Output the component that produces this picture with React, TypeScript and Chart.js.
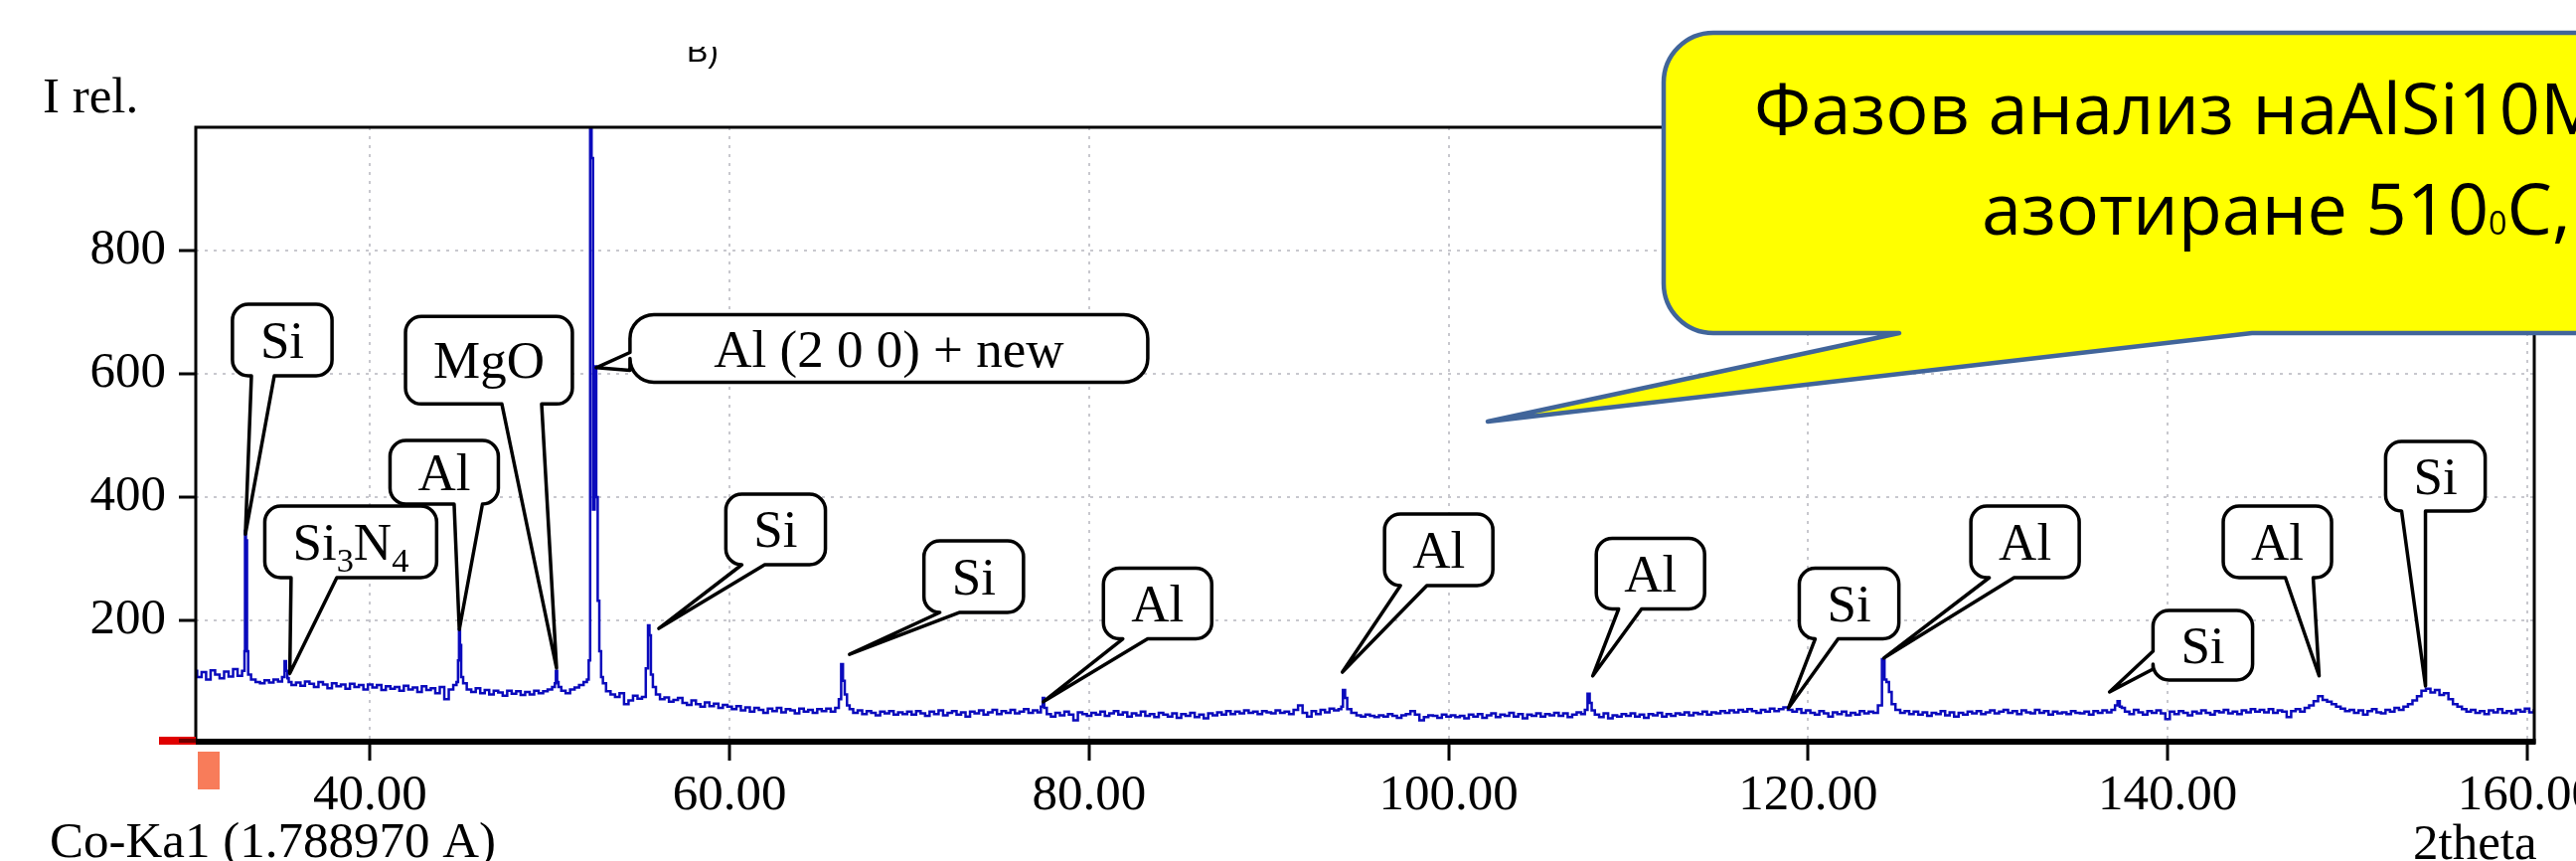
import React, { useEffect, useRef } from 'react';
import { Chart, registerables } from 'chart.js';

Chart.register(...registerables);

// ---------- axes ----------
const X_MIN = 30.3;
const X_MAX = 160.4;
const Y_MIN = 0;
const Y_MAX = 1000;
const X_TICKS = [40, 60, 80, 100, 120, 140, 160];
const Y_TICKS = [200, 400, 600, 800];

// ---------- measured pattern (Co-Ka1) ----------
// background scan sampled every 0.25 deg starting at 30.25 deg; null = sample replaced by a peak profile
const SCAN_START = 30.25;
const SCAN_STEP = 0.25;
const SCAN_INTENSITY: (number | null)[] = [
  118, 108, 116, 104, 119, 112, 106, 117, 109, 121, 110, 118, 112, 104, 100, 98, 103, 99, 104, 101,
  null, 100, 95, 99, 94, 101, 97, 92, 100, 96, 90, 98, 93, 96, 89, 97, 92, 95, 88, 96,
  91, 95, 87, 93, 89, 92, 86, 94, 88, 91, 84, 93, 87, 90, 82, 92, 72, 88, 95, null,
  98, 88, 84, 90, 82, 87, 80, 86, 83, 78, 86, 81, 85, 79, 84, 80, 86, 82, 85, 88,
  92, null, 86, 82, 88, 91, 95, 100, null, null, null, 98, 85, 80, 76, 82, 64, 70, 78, 73,
  76, null, null, 80, 72, 75, 68, 71, 74, 66, 63, 70, 64, 60, 67, 61, 65, 58, 63, 60,
  56, 61, 54, 59, 52, 58, 55, 50, 57, 53, 58, 51, 56, 54, 49, 57, 52, 55, 50, 56,
  53, 57, 52, 58, null, null, 56, 50, 54, 48, 53, 50, 46, 52, 49, 53, 47, 51, 48, 52,
  47, 53, 49, 45, 52, 48, 54, 46, 50, 53, 47, 51, 44, 52, 49, 54, 47, 51, 55, 48,
  53, 50, 55, 49, 52, 56, 50, 54, 51, null, 48, 44, 50, 46, 52, 47, 38, 51, 48, 45,
  50, 47, 52, 45, 49, 53, 47, 51, 44, 49, 46, 52, 45, 48, 43, 50, 47, 44, 49, 42,
  48, 45, 50, 43, 47, 41, 49, 46, 51, 47, 53, 48, 52, 49, 54, 50, 52, 48, 53, 51,
  49, 54, 50, 52, 48, 55, 62, 50, 44, 53, 48, 55, 51, 57, 54, 56, null, null, 50, 46,
  44, 47, 45, 43, 46, 44, 48, 45, 42, 46, 48, 53, 47, 38, 43, 46, 45, 42, 47, 44,
  46, 43, 45, 41, 47, 44, 48, 42, 46, 49, 43, 47, 45, 50, 44, 48, 41, 47, 45, 49,
  44, 48, 46, 50, 45, 49, 43, 47, 51, 48, null, null, 47, 43, 49, 41, 46, 44, 48, 45,
  49, 44, 47, 42, 48, 46, 50, 44, 48, 45, 49, 47, 51, 46, 50, 48, 52, 47, 51, 49,
  53, 50, 54, 51, 55, 52, 56, 53, 50, 55, 52, 57, 53, 56, 59, 55, 52, 56, 50, 54,
  50, 47, 53, 49, 44, 51, 48, 52, 46, 50, 47, 53, 49, 52, 50, null, null, null, null, 55,
  50, 53, 48, 52, 47, 51, 45, 50, 48, 53, 46, 51, 44, 50, 47, 52, 49, 53, 48, 51,
  54, 49, 52, 55, 50, 53, 48, 54, 51, 49, 55, 50, 53, 47, 52, 49, 51, 48, 53, 50,
  49, 52, 47, 53, 50, 54, 51, 55, null, 58, 52, 48, 55, 51, 47, 53, 50, 54, 49, 40,
  52, 48, 53, 50, 46, 52, 49, 54, 50, 47, 53, 51, 55, 49, 52, 48, 54, 51, 56, 52,
  55, 51, 56, 50, 54, 52, 43, 53, 56, 52, 58, 62, 69, 77, 71, 68, 64, 60, 57, 53,
  55, 50, 54, 47, 53, 56, 51, 49, 55, 52, 58, 55, 60, 64, 70, 77, 86, 89, 83, 87,
  79, 82, 72, 64, 60, 56, 52, 55, 50, 53, 48, 54, 51, 56, 50, 53, 49, 55, 52, 57,
  51, 54,
];

// narrow reflections [2theta, intensity]
const SI_PEAKS: [number, number][] = [
  [33.02, 150], [33.06, 345], [33.12, 330], [33.18, 150],
  [55.42, 122], [55.5, 192], [55.58, 176], [55.66, 112], [55.8, 92],
  [66.15, 72], [66.26, 129], [66.35, 102], [66.46, 80], [66.6, 62],
  [137.15, 62], [137.28, 69], [137.4, 60],
];
const SI3N4_PEAKS: [number, number][] = [[35.2, 108], [35.28, 134], [35.36, 118], [35.44, 106]];
const MGO_PEAKS: [number, number][] = [[50.3, 98], [50.37, 118], [50.44, 100], [50.52, 92]];
const AL_PEAKS: [number, number][] = [
  [44.86, 100], [44.92, 135], [44.97, 185], [45.03, 160], [45.1, 108],
  [52.12, 104], [52.2, 135], [52.28, 1100], [52.36, 950], [52.44, 380], [52.54, 612],
  [52.62, 400], [52.7, 232], [52.8, 150], [52.9, 108],
  [77.38, 60], [77.46, 74], [77.54, 58],
  [94.06, 60], [94.18, 87], [94.3, 74], [94.42, 56],
  [107.66, 55], [107.8, 81], [107.9, 66], [108.02, 54],
  [124.02, 62], [124.2, 137], [124.3, 104], [124.42, 100], [124.58, 84], [124.72, 64],
];

// ---------- phase labels: box centre and pointer tip in data units ----------
type Callout = {
  label: string; tip: [number, number]; box: [number, number];
  h: number; w?: number; r?: number; side: 'bottom' | 'left'; base: [number, number];
};
const CALLOUTS: Callout[] = [
  { label: 'Si', tip: [33.06, 340], box: [35.11, 654.8], h: 72, side: 'bottom', base: [-31, -8] },
  { label: 'Si_3N_4', tip: [35.53, 114], box: [38.92, 327.4], h: 72, side: 'bottom', base: [-60, -14] },
  { label: 'Al', tip: [44.96, 185], box: [44.12, 440.3], h: 64, side: 'bottom', base: [10, 40] },
  { label: 'MgO', tip: [50.37, 122.6], box: [46.61, 622], h: 88, side: 'bottom', base: [13, 53] },
  { label: 'Al (2 0 0) + new', tip: [52.58, 610], box: [68.86, 641.1], h: 68, w: 521, r: 24, side: 'left', base: [4, 22] },
  { label: 'Si', tip: [56.06, 187], box: [62.56, 347.6], h: 71, side: 'bottom', base: [-34, -11] },
  { label: 'Si', tip: [66.67, 145], box: [73.58, 271], h: 72, side: 'bottom', base: [-38, -14] },
  { label: 'Al', tip: [77.45, 68], box: [83.81, 227.4], h: 71, side: 'bottom', base: [-35, -10] },
  { label: 'Al', tip: [94.09, 116], box: [99.45, 314.5], h: 72, side: 'bottom', base: [-40, -12] },
  { label: 'Al', tip: [108.02, 110], box: [111.23, 275.8], h: 71, side: 'bottom', base: [-32, -9] },
  { label: 'Si', tip: [118.91, 58], box: [122.28, 227.4], h: 71, side: 'bottom', base: [-36, -11] },
  { label: 'Al', tip: [124.22, 139], box: [132.07, 327.4], h: 72, side: 'bottom', base: [-36, -11] },
  { label: 'Si', tip: [136.77, 84], box: [141.96, 159.7], h: 70, side: 'left', base: [6, 24] },
  { label: 'Al', tip: [148.43, 110], box: [146.11, 327.4], h: 72, side: 'bottom', base: [8, 36] },
  { label: 'Si', tip: [154.35, 93.5], box: [154.9, 433.9], h: 70, side: 'bottom', base: [-34, -10] },
];

const NOTE_LINES = ['Фазов анализ наAlSi10Mg след', 'азотиране 510_0C, 8 h'];
const Y_TITLE = 'I rel.';
const X_TITLE = '2theta';
const RADIATION = 'Co-Ka1 (1.788970 A)';
const PANEL_LETTER = 'В)';

const SERIF = '"Liberation Serif", "Times New Roman", serif';
const LABEL_SIZE = 53;

function richMeasure(ctx: CanvasRenderingContext2D, text: string, size: number, family: string, subScale = 0.65) {
  const parts = text.split(/_(\d)/);
  let total = 0;
  parts.forEach((t, i) => {
    if (!t) return;
    ctx.font = `${i % 2 === 1 ? size * subScale : size}px ${family}`;
    total += ctx.measureText(t).width;
  });
  return total;
}

function drawRich(
  ctx: CanvasRenderingContext2D, text: string, x: number, y: number, size: number,
  family: string, align: 'left' | 'center', subScale = 0.65, subShift = 0.22,
) {
  const parts = text.split(/_(\d)/);
  const segs = parts
    .map((t, i) => ({ t, sub: i % 2 === 1, w: 0 }))
    .filter((s) => s.t.length > 0);
  let total = 0;
  segs.forEach((s) => {
    ctx.font = `${s.sub ? size * subScale : size}px ${family}`;
    s.w = ctx.measureText(s.t).width;
    total += s.w;
  });
  let cx = align === 'center' ? x - total / 2 : x;
  ctx.textAlign = 'left';
  segs.forEach((s) => {
    ctx.font = `${s.sub ? size * subScale : size}px ${family}`;
    ctx.fillText(s.t, cx, s.sub ? y + size * subShift : y);
    cx += s.w;
  });
  return total;
}

function calloutPath(
  ctx: CanvasRenderingContext2D, left: number, top: number, w: number, h: number, r: number,
  side: 'bottom' | 'left', b1: number, b2: number, tx: number, ty: number,
) {
  const right = left + w;
  const bottom = top + h;
  ctx.beginPath();
  ctx.moveTo(left + r, top);
  ctx.lineTo(right - r, top);
  ctx.arcTo(right, top, right, top + r, r);
  ctx.lineTo(right, bottom - r);
  ctx.arcTo(right, bottom, right - r, bottom, r);
  if (side === 'bottom') {
    ctx.lineTo(b2, bottom);
    ctx.lineTo(tx, ty);
    ctx.lineTo(b1, bottom);
  }
  ctx.lineTo(left + r, bottom);
  ctx.arcTo(left, bottom, left, bottom - r, r);
  if (side === 'left') {
    ctx.lineTo(left, b2);
    ctx.lineTo(tx, ty);
    ctx.lineTo(left, b1);
  }
  ctx.lineTo(left, top + r);
  ctx.arcTo(left, top, left + r, top, r);
  ctx.closePath();
}

const overlayPlugin = {
  id: 'xrdOverlay',
  afterDraw(chart: any) {
    const { ctx, chartArea: a, scales } = chart;
    const xs = scales.x;
    const ys = scales.y;
    ctx.save();

    // frame
    ctx.strokeStyle = '#000';
    ctx.lineWidth = 3;
    ctx.beginPath();
    ctx.moveTo(a.left, a.bottom);
    ctx.lineTo(a.left, a.top);
    ctx.lineTo(a.right, a.top);
    ctx.lineTo(a.right, a.bottom);
    ctx.stroke();
    ctx.lineWidth = 6;
    ctx.beginPath();
    ctx.moveTo(a.left - 1, a.bottom - 2);
    ctx.lineTo(a.right + 1.5, a.bottom - 2);
    ctx.stroke();

    // range markers
    ctx.fillStyle = '#e00000';
    ctx.fillRect(a.left - 37, a.bottom - 7, 37, 8);
    ctx.fillStyle = '#700000';
    ctx.fillRect(a.left - 17, a.bottom - 5, 17, 4);
    ctx.fillStyle = '#f87c5a';
    ctx.fillRect(a.left + 2, a.bottom + 8, 22, 38);

    // texts
    ctx.fillStyle = '#000';
    ctx.textBaseline = 'alphabetic';
    ctx.textAlign = 'left';
    ctx.font = `51px ${SERIF}`;
    ctx.fillText(Y_TITLE, 43, 113);
    ctx.fillText(RADIATION, 50, 862);
    ctx.fillText(X_TITLE, 2428, 864);

    ctx.save();
    ctx.beginPath();
    ctx.rect(600, 47, 200, 30);
    ctx.clip();
    ctx.font = '32px "Liberation Sans", Arial, sans-serif';
    ctx.fillText(PANEL_LETTER, 691, 62);
    ctx.restore();

    // phase callouts
    CALLOUTS.forEach((c) => {
      const cx = xs.getPixelForValue(c.box[0]);
      const cy = ys.getPixelForValue(c.box[1]);
      const tx = xs.getPixelForValue(c.tip[0]);
      const ty = ys.getPixelForValue(c.tip[1]);
      const w = c.w ?? richMeasure(ctx, c.label, LABEL_SIZE, SERIF) + 56;
      const h = c.h;
      const left = cx - w / 2;
      const top = cy - h / 2;
      const r = c.r ?? 16;
      let b1: number;
      let b2: number;
      if (c.side === 'bottom') {
        b1 = Math.max(left + r, cx + c.base[0]);
        b2 = Math.min(left + w - r, cx + c.base[1]);
      } else {
        b1 = cy + c.base[0];
        b2 = cy + c.base[1];
      }
      calloutPath(ctx, left, top, w, h, r, c.side, b1, b2, tx, ty);
      ctx.fillStyle = '#fff';
      ctx.fill();
      ctx.lineWidth = 3.5;
      ctx.lineJoin = 'round';
      ctx.strokeStyle = '#000';
      ctx.stroke();
      ctx.fillStyle = '#000';
      drawRich(ctx, c.label, cx, cy + 18, LABEL_SIZE, SERIF, 'center');
    });

    // yellow note
    calloutPath(ctx, 1674, 33, 1300, 302, 50, 'bottom', 1911, 2266, 1497, 424);
    ctx.fillStyle = '#ffff00';
    ctx.fill();
    ctx.lineWidth = 4.5;
    ctx.lineJoin = 'round';
    ctx.strokeStyle = '#41659a';
    ctx.stroke();
    ctx.fillStyle = '#000';
    drawRich(ctx, NOTE_LINES[0], 1765, 135, 72, '"Open Sans", "Noto Sans", sans-serif', 'left');
    drawRich(ctx, NOTE_LINES[1], 1994, 236, 72, '"Open Sans", "Noto Sans", sans-serif', 'left', 0.45, 0);

    ctx.restore();
  },
};

export default function App() {
  const canvasRef = useRef<HTMLCanvasElement | null>(null);

  useEffect(() => {
    const canvas = canvasRef.current;
    if (!canvas) return;

    const points: { x: number; y: number }[] = [];
    SCAN_INTENSITY.forEach((v, i) => {
      if (v !== null) points.push({ x: +(SCAN_START + i * SCAN_STEP).toFixed(2), y: v });
    });
    [...SI_PEAKS, ...SI3N4_PEAKS, ...MGO_PEAKS, ...AL_PEAKS].forEach(([x, y]) => points.push({ x, y }));
    points.sort((p, q) => p.x - q.x);

    const tickFont = { family: 'Liberation Serif', size: 51 };
    const grid = {
      color: '#c8c8ce',
      lineWidth: 2,
      drawTicks: true,
      tickLength: 17,
      tickColor: '#000',
      tickWidth: 3,
    };

    const chart = new Chart(canvas, {
      type: 'line',
      data: {
        datasets: [
          {
            data: points,
            borderColor: '#0a0abc',
            borderWidth: 2.5,
            pointRadius: 0,
            tension: 0,
            stepped: 'middle',
            fill: false,
          },
        ],
      },
      options: {
        animation: false,
        responsive: false,
        devicePixelRatio: 1,
        events: [],
        layout: { padding: { left: 0, top: 128, right: 42, bottom: 0 } },
        plugins: { legend: { display: false }, tooltip: { enabled: false } },
        scales: {
          x: {
            type: 'linear',
            min: X_MIN,
            max: X_MAX,
            afterBuildTicks: (s: any) => {
              s.ticks = X_TICKS.map((v) => ({ value: v }));
            },
            afterFit: (s: any) => {
              s.height = 118;
              s.paddingLeft = 0;
              s.paddingRight = 0;
            },
            grid,
            border: { display: false, dash: [3, 6] },
            ticks: {
              font: tickFont,
              color: '#000',
              padding: 5,
              maxRotation: 0,
              autoSkip: false,
              callback: (v: any) => Number(v).toFixed(2),
            },
          },
          y: {
            type: 'linear',
            min: Y_MIN,
            max: Y_MAX,
            afterBuildTicks: (s: any) => {
              s.ticks = Y_TICKS.map((v) => ({ value: v }));
            },
            afterFit: (s: any) => {
              s.width = 197;
              s.paddingTop = 0;
              s.paddingBottom = 0;
            },
            grid,
            border: { display: false, dash: [3, 6] },
            ticks: {
              font: tickFont,
              color: '#000',
              padding: 13,
              callback: (v: any) => String(v),
            },
          },
        },
      },
      plugins: [overlayPlugin],
    } as any);

    return () => chart.destroy();
  }, []);

  return (
    <div style={{ position: 'absolute', left: 0, top: 0, width: 2592, height: 866, background: '#fff' }}>
      <canvas ref={canvasRef} width={2592} height={866} style={{ width: 2592, height: 866, display: 'block' }} />
    </div>
  );
}
